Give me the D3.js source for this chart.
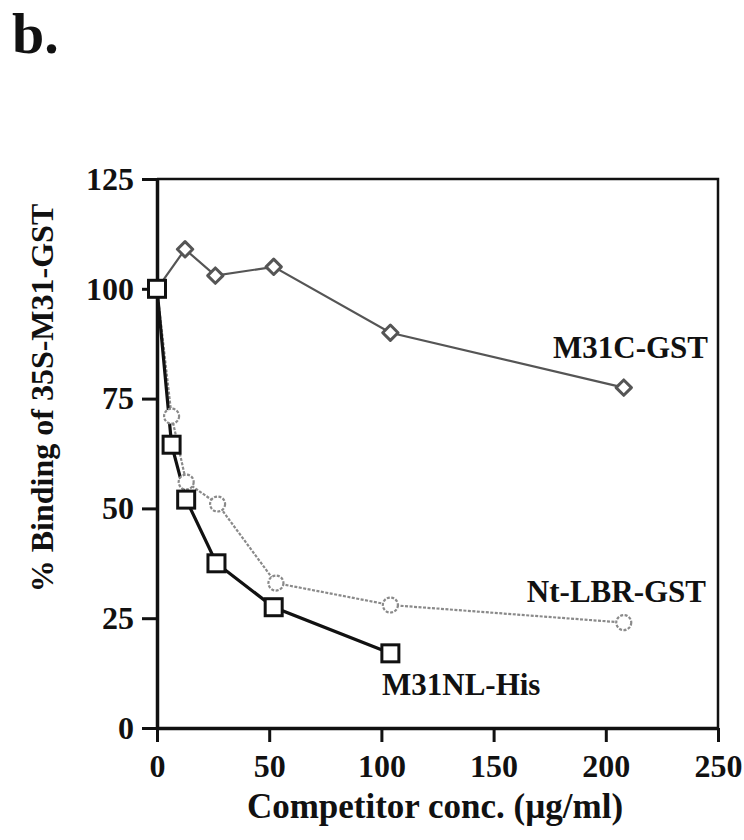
<!DOCTYPE html>
<html>
<head>
<meta charset="utf-8">
<script src="https://cdn.jsdelivr.net/npm/d3@7"></script>
<style>
  body { margin: 0; background: #fff; }
  svg text { font-family: "Liberation Serif", "DejaVu Serif", serif; font-weight: bold; fill: #111; }
</style>
</head>
<body>
<div class="container"></div>
<script>
// competitor concentrations (ug/ml) and % binding for each competitor
var m31cX = [0, 12.5, 26, 52, 104, 208];
var m31cY = [100, 109, 103, 105, 90, 77.5];
var ntlbrX = [0, 6.5, 13, 27, 53, 104, 208];
var ntlbrY = [100, 71, 56, 51, 33, 28, 24];
var m31nlX = [0, 6.5, 13, 26.5, 52, 104];
var m31nlY = [100, 64.5, 52, 37.5, 27.5, 17];
var xTicks = [0, 50, 100, 150, 200, 250];
var yTicks = [0, 25, 50, 75, 100, 125];

const WIDTH = 744;
const HEIGHT = 840;

var zip = function (xs, ys) {
    return xs.map(function (x, i) { return {x: x, y: ys[i]}; });
};

var visualize = function () {
    var svg = d3.select('.container').append('svg')
        .attr('width', WIDTH)
        .attr('height', HEIGHT);

    var xScale = d3.scaleLinear().domain([0, 250]).range([157, 718]);
    var yScale = d3.scaleLinear().domain([0, 125]).range([728, 179]);

    // panel letter
    svg.append('text').attr('x', 12).attr('y', 53)
        .style('font-size', '58px').text('b.');

    // frame (top and right)
    svg.append('path')
        .attr('d', 'M' + xScale(0) + ',' + yScale(125) + 'H' + xScale(250) + 'V' + yScale(0))
        .attr('fill', 'none').attr('stroke', '#111').attr('stroke-width', 2.5);

    var xAxis = svg.append('g')
        .attr('transform', 'translate(0,' + yScale(0) + ')')
        .call(d3.axisBottom(xScale).tickValues(xTicks).tickSize(14).tickPadding(12).tickSizeOuter(0));
    var yAxis = svg.append('g')
        .attr('transform', 'translate(' + xScale(0) + ',0)')
        .call(d3.axisLeft(yScale).tickValues(yTicks).tickSize(15).tickPadding(8).tickSizeOuter(0));

    [xAxis, yAxis].forEach(function (ax) {
        ax.select('.domain').attr('stroke', '#111').attr('stroke-width', 3.5);
        ax.selectAll('.tick line').attr('stroke', '#111').attr('stroke-width', 3);
        ax.selectAll('.tick text')
            .style('font-family', '"Liberation Serif", serif')
            .style('font-weight', 'bold')
            .style('font-size', '32px')
            .attr('fill', '#111');
    });

    var line = d3.line()
        .x(function (d) { return xScale(d.x); })
        .y(function (d) { return yScale(d.y); });

    var series = [
        {data: zip(ntlbrX, ntlbrY), color: '#8a8a8a', width: 2.2, dash: '3,1.5', symbol: 'circle'},
        {data: zip(m31cX, m31cY), color: '#555', width: 2.2, dash: null, symbol: 'diamond'},
        {data: zip(m31nlX, m31nlY), color: '#111', width: 3.2, dash: null, symbol: 'square'}
    ];

    series.forEach(function (s) {
        svg.append('path').datum(s.data)
            .attr('d', line)
            .attr('fill', 'none')
            .attr('stroke', s.color)
            .attr('stroke-width', s.width)
            .attr('stroke-dasharray', s.dash);
    });

    series.forEach(function (s) {
        var pts = svg.append('g').selectAll('g').data(s.data).enter().append('g')
            .attr('transform', function (d) {
                return 'translate(' + xScale(d.x) + ',' + yScale(d.y) + ')';
            });
        if (s.symbol == 'circle') {
            pts.filter(function (d, i) { return i > 0; }).append('circle').attr('r', 7.5)
                .attr('fill', '#fff').attr('stroke', s.color).attr('stroke-width', 2.2)
                .attr('stroke-dasharray', '3,1.5');
        } else if (s.symbol == 'diamond') {
            pts.filter(function (d, i) { return i > 0; }).append('path')
                .attr('d', d3.symbol(d3.symbolDiamond2, 150))
                .attr('fill', '#fff').attr('stroke', s.color).attr('stroke-width', 3)
                .attr('stroke-linejoin', 'round');
        } else {
            pts.append('rect').attr('x', -8.5).attr('y', -8.5).attr('width', 17).attr('height', 17)
                .attr('fill', '#fff').attr('stroke', s.color).attr('stroke-width', 3);
        }
    });

    // series labels
    svg.append('text').attr('x', 708).attr('y', 358).attr('text-anchor', 'end')
        .style('font-size', '31px').text('M31C-GST');
    svg.append('text').attr('x', 706).attr('y', 602).attr('text-anchor', 'end')
        .style('font-size', '31px').text('Nt-LBR-GST');
    svg.append('text').attr('x', 382).attr('y', 695)
        .style('font-size', '31px').text('M31NL-His');

    // axis titles
    svg.append('text').attr('x', 435).attr('y', 818).attr('text-anchor', 'middle')
        .style('font-size', '35px').text('Competitor conc. (\u00b5g/ml)');
    svg.append('text').attr('text-anchor', 'middle')
        .attr('transform', 'translate(53,398) rotate(-90)')
        .style('font-size', '32px').text('% Binding of 35S-M31-GST');
};

window.onload = visualize;
</script>
</body>
</html>
